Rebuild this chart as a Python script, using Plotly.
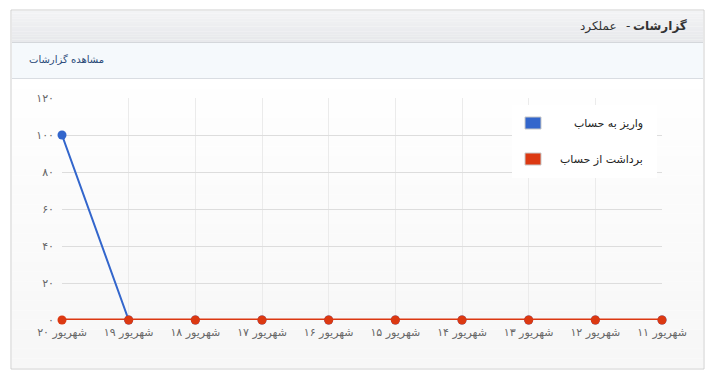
import plotly.graph_objects as go

categories = ["شهریور ۲۰", "شهریور ۱۹", "شهریور ۱۸", "شهریور ۱۷", "شهریور ۱۶",
              "شهریور ۱۵", "شهریور ۱۴", "شهریور ۱۳", "شهریور ۱۲", "شهریور ۱۱"]
deposit = [100, 0, 0, 0, 0, 0, 0, 0, 0, 0]
withdraw = [0, 0, 0, 0, 0, 0, 0, 0, 0, 0]
series_names = ["واریز به حساب", "برداشت از حساب"]
series_colors = ["#3366cc", "#dc3912"]
ytick_vals = [0, 20, 40, 60, 80, 100, 120]
ytick_text = ["۰", "۲۰", "۴۰", "۶۰", "۸۰", "۱۰۰", "۱۲۰"]
title_bold = "گزارشات"
title_sep = "-"
title_rest = "عملکرد"
subtitle = "مشاهده گزارشات"

W, H = 716, 379
L, R, T, B = 62, 662, 98, 320


def px(x):
    return (x - L) / (R - L)


def py(y):
    return (B - y) / (B - T)


FONT = "Tahoma, DejaVu Sans, sans-serif"

fig = go.Figure()
for name, vals, col, lw in [(series_names[0], deposit, series_colors[0], 2),
                            (series_names[1], withdraw, series_colors[1], 3)]:
    fig.add_trace(go.Scatter(
        x=categories, y=vals, name=name, mode="lines+markers",
        line=dict(color=col, width=lw), marker=dict(color=col, size=9),
        cliponaxis=False, showlegend=False, hoverinfo="skip"))

shapes = []
# panel
shapes.append(dict(type="rect", xref="paper", yref="paper",
                   x0=px(11), x1=px(704), y0=py(369), y1=py(10),
                   line=dict(color="#cfcfcf", width=1), fillcolor="#ffffff", layer="below"))
# chart area gradient
n = 30
y_start, y_end = 79, 368
for i in range(n):
    ya = y_start + (y_end - y_start) * i / n
    yb = y_start + (y_end - y_start) * (i + 1) / n
    t = i / (n - 1)
    c = int(255 - 8 * t)
    shapes.append(dict(type="rect", xref="paper", yref="paper",
                       x0=px(12), x1=px(703), y0=py(yb), y1=py(ya),
                       line=dict(width=0), fillcolor=f"rgb({c},{c},{c})", layer="below"))
# header gradient
n2 = 12
for i in range(n2):
    ya = 11 + 31 * i / n2
    yb = 11 + 31 * (i + 1) / n2
    t = i / (n2 - 1)
    r = int(242 - 10 * t); g = int(243 - 10 * t); b = int(245 - 9 * t)
    shapes.append(dict(type="rect", xref="paper", yref="paper",
                       x0=px(12), x1=px(703), y0=py(yb), y1=py(ya),
                       line=dict(width=0), fillcolor=f"rgb({r},{g},{b})", layer="below"))
shapes.append(dict(type="rect", xref="paper", yref="paper",
                   x0=px(12), x1=px(703), y0=py(78), y1=py(43),
                   line=dict(width=0), fillcolor="#f5f9fc", layer="below"))
for yy, col in [(42.5, "#d4d7db"), (78.5, "#d9dde2")]:
    shapes.append(dict(type="line", xref="paper", yref="paper",
                       x0=px(12), x1=px(703), y0=py(yy), y1=py(yy),
                       line=dict(color=col, width=1), layer="below"))
# legend box
shapes.append(dict(type="rect", xref="paper", yref="paper",
                   x0=px(512), x1=px(657), y0=py(178), y1=py(105),
                   line=dict(width=0), fillcolor="#ffffff", layer="above"))

annotations = [
    dict(text="<b>" + title_bold + "</b>", x=px(689), y=py(26), xref="paper", yref="paper",
         xanchor="right", yanchor="middle", showarrow=False,
         font=dict(family=FONT, size=12, color="#333333")),
    dict(text=title_sep, x=px(628), y=py(26), xref="paper", yref="paper",
         xanchor="center", yanchor="middle", showarrow=False,
         font=dict(family=FONT, size=12, color="#333333")),
    dict(text=title_rest, x=px(619), y=py(26), xref="paper", yref="paper",
         xanchor="right", yanchor="middle", showarrow=False,
         font=dict(family=FONT, size=12, color="#333333")),
    dict(text=subtitle, x=px(27), y=py(60), xref="paper", yref="paper",
         xanchor="left", yanchor="middle", showarrow=False,
         font=dict(family=FONT, size=10, color="#2a4a78")),
]
# legend entries
for i, (nm, col) in enumerate(zip(series_names, series_colors)):
    yc = 123 + 36 * i
    shapes.append(dict(type="rect", xref="paper", yref="paper",
                       x0=px(525), x1=px(541), y0=py(yc + 6), y1=py(yc - 6),
                       line=dict(color="#c8c8c8", width=1), fillcolor=col, layer="above"))
    annotations.append(dict(text=nm, x=px(645), y=py(yc), xref="paper", yref="paper",
                            xanchor="right", yanchor="middle", showarrow=False,
                            font=dict(family=FONT, size=11, color="#222222")))

fig.update_layout(
    width=W, height=H,
    margin=dict(l=L, r=W - R, t=T, b=H - B),
    paper_bgcolor="#ffffff", plot_bgcolor="rgba(0,0,0,0)",
    shapes=shapes, annotations=annotations, showlegend=False,
    font=dict(family=FONT, size=11, color="#666666"),
)
fig.update_xaxes(range=[0, len(categories) - 1], showgrid=True, gridcolor="#ebebeb",
                 zeroline=False, showline=False, ticks="", ticklabelstandoff=4,
                 tickfont=dict(family=FONT, size=11, color="#666666"), fixedrange=True)
fig.update_yaxes(range=[0, 120], tickvals=ytick_vals, ticktext=ytick_text,
                 showgrid=True, gridcolor="#dddddd", zeroline=False, showline=False,
                 ticks="", ticklabelstandoff=7,
                 tickfont=dict(family=FONT, size=11, color="#666666"), fixedrange=True)

fig.write_html("out.html")
